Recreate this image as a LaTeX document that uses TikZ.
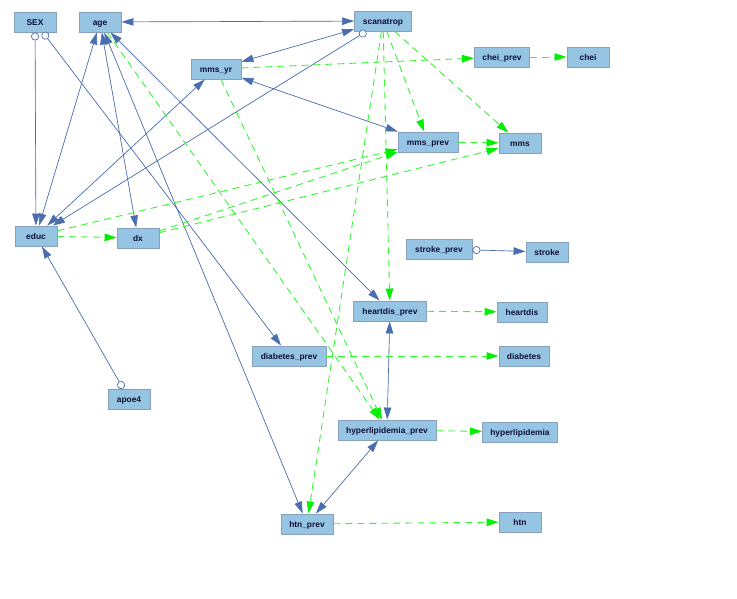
\documentclass[tikz,border=0pt]{standalone}
\usepackage{fontspec}
\setmainfont{Liberation Sans}
\usetikzlibrary{arrows.meta}
\definecolor{nfill}{RGB}{150,197,227}
\definecolor{nborder}{RGB}{135,160,190}
\definecolor{ntext}{RGB}{15,15,55}
\definecolor{eblue}{RGB}{75,110,175}
\definecolor{egreen}{RGB}{50,248,50}
\definecolor{agreen}{RGB}{0,240,0}
\tikzset{
  var/.style={rectangle, fill=nfill, draw=nborder, line width=0.9pt, minimum height=20pt, inner sep=0pt, text height=6.3pt, text depth=0pt, text=ntext, font=\fontsize{8.4}{9}\selectfont\bfseries},
  tipb/.tip={Triangle[length=12pt,width=7.5pt]},
  tipc/.tip={Circle[length=8pt,fill=white,line width=0.7pt]},
  bi/.style={draw=eblue, line width=0.65pt, fill=eblue, tipb-tipb},
  co/.style={draw=eblue, line width=0.65pt, fill=eblue, tipc-tipb},
  gd/.style={draw=egreen, line width=0.9pt, dash pattern=on 7pt off 5pt, -{Triangle[length=12pt,width=7.5pt,fill=agreen,color=agreen]}},
}
\begin{document}
\begin{tikzpicture}[x=1pt,y=-1pt]
\useasboundingbox[fill=white] (0,0) rectangle (737,599);
\node[var, minimum width=42pt] (SEX) at (35,22) {SEX};
\node[var, minimum width=42pt] (age) at (100,22) {age};
\node[var, minimum width=57pt] (scanatrop) at (383,21) {scanatrop};
\node[var, minimum width=50pt] (mms_yr) at (216,69) {mms\_yr};
\node[var, minimum width=55pt] (chei_prev) at (502,57) {chei\_prev};
\node[var, minimum width=42pt] (chei) at (588,57) {chei};
\node[var, minimum width=60pt] (mms_prev) at (428,142) {mms\_prev};
\node[var, minimum width=42pt] (mms) at (520,143) {mms};
\node[var, minimum width=42pt] (educ) at (36,236) {educ};
\node[var, minimum width=42pt] (dx) at (138,238) {dx};
\node[var, minimum width=66pt] (stroke_prev) at (439,249) {stroke\_prev};
\node[var, minimum width=42pt] (stroke) at (547,252) {stroke};
\node[var, minimum width=73pt] (heartdis_prev) at (390,311) {heartdis\_prev};
\node[var, minimum width=50pt] (heartdis) at (522,312) {heartdis};
\node[var, minimum width=74pt] (diabetes_prev) at (289,356) {diabetes\_prev};
\node[var, minimum width=50pt] (diabetes) at (524,356) {diabetes};
\node[var, minimum width=42pt] (apoe4) at (129,399) {apoe4};
\node[var, minimum width=98pt] (hyperlipidemia_prev) at (387,430) {hyperlipidemia\_prev};
\node[var, minimum width=75pt] (hyperlipidemia) at (520,432) {hyperlipidemia};
\node[var, minimum width=52pt] (htn_prev) at (307,524) {htn\_prev};
\node[var, minimum width=42pt] (htn) at (520,522) {htn};
% blue edges
\draw[bi] (age) -- (scanatrop);
\draw[bi] (mms_yr) -- (scanatrop);
\draw[co] (scanatrop) -- (educ);
\draw[co] (SEX) -- (educ);
\draw[co] (SEX) -- (diabetes_prev);
\draw[bi] (age) -- (educ);
\draw[bi] (mms_yr) -- (educ);
\draw[bi] (age) -- (dx);
\draw[bi] (age) -- (htn_prev);
\draw[bi] (age) -- (heartdis_prev);
\draw[bi] (mms_yr) -- (mms_prev);
\draw[bi] (heartdis_prev) -- (hyperlipidemia_prev);
\draw[bi] (hyperlipidemia_prev) -- (htn_prev);
\draw[co] (apoe4) -- (educ);
\draw[co] (stroke_prev) -- (stroke);
% green edges
\draw[gd] (educ) -- (dx);
\draw[gd] (educ) -- (mms_prev);
\draw[gd] (dx) -- (mms_prev);
\draw[gd] (dx) -- (mms);
\draw[gd] (mms_prev) -- (mms);
\draw[gd] (chei_prev) -- (chei);
\draw[gd] (mms_yr) -- (chei_prev);
\draw[gd] (scanatrop) -- (mms_prev);
\draw[gd] (scanatrop) -- (mms);
\draw[gd] (scanatrop) -- (heartdis_prev);
\draw[gd] (scanatrop) -- (htn_prev);
\draw[gd] (age) -- (hyperlipidemia_prev);
\draw[gd] (mms_yr) -- (hyperlipidemia_prev);
\draw[gd] (heartdis_prev) -- (heartdis);
\draw[gd] (diabetes_prev) -- (diabetes);
\draw[gd] (hyperlipidemia_prev) -- (hyperlipidemia);
\draw[gd] (htn_prev) -- (htn);
\end{tikzpicture}
\end{document}
